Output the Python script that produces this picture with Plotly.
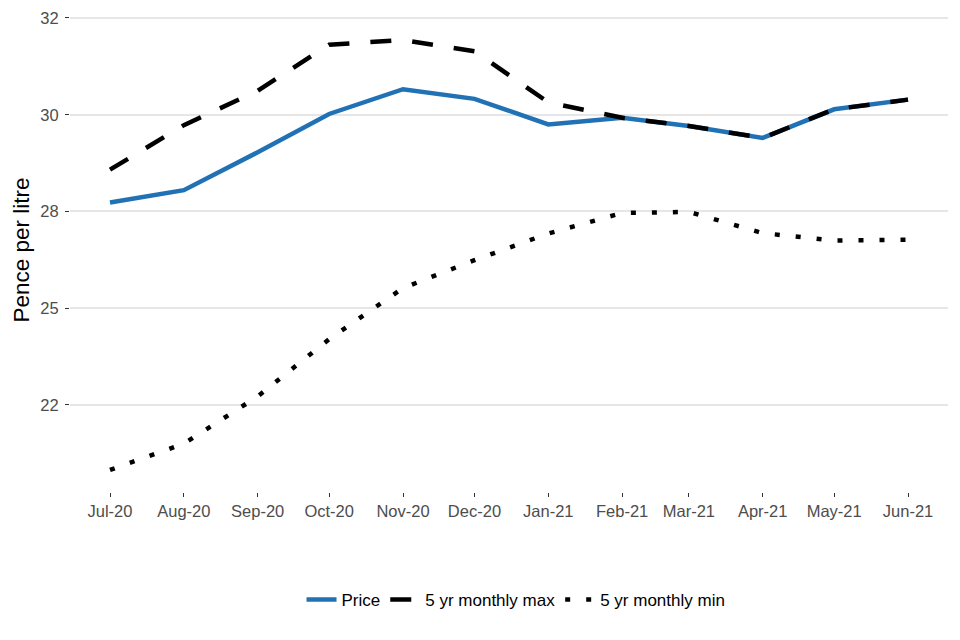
import plotly.graph_objects as go

months = ["2020-07-01", "2020-08-01", "2020-09-01", "2020-10-01", "2020-11-01", "2020-12-01",
          "2021-01-01", "2021-02-01", "2021-03-01", "2021-04-01", "2021-05-01", "2021-06-01"]
price = [27.73, 28.05, 29.03, 30.02, 30.66, 30.41, 29.75, 29.92, 29.71, 29.40, 30.14, 30.39]
max5 = [28.58, 29.73, 30.62, 31.81, 31.93, 31.64, 30.32, 29.92, 29.71, 29.40, 30.14, 30.39]
min5 = [20.82, 21.50, 22.72, 24.20, 25.52, 26.24, 26.93, 27.46, 27.49, 26.94, 26.75, 26.77]

y_tickvals = [22.5, 25, 27.5, 30, 32.5]
y_ticktext = ["22", "25", "28", "30", "32"]

FONT = "Liberation Sans, Arial, sans-serif"

fig = go.Figure()
fig.add_trace(go.Scatter(x=months, y=price, mode="lines", name="Price",
                         line=dict(color="#2171b5", width=4.5)))
fig.add_trace(go.Scatter(x=months, y=max5, mode="lines", name="5 yr monthly max",
                         line=dict(color="#000000", width=4.5, dash="21px,21px")))
fig.add_trace(go.Scatter(x=months, y=min5, mode="lines", name="5 yr monthly min",
                         line=dict(color="#000000", width=4.5, dash="5px,16px")))

fig.update_layout(
    width=960, height=640,
    margin=dict(l=62, r=20, t=0, b=156, autoexpand=False),
    paper_bgcolor="white", plot_bgcolor="white",
    font=dict(family=FONT, size=16, color="#4d4d4d"),
    showlegend=True,
    legend=dict(orientation="h", x=0.508, xanchor="center", y=-0.223, yanchor="middle",
                font=dict(family=FONT, size=17, color="#000000"),
                itemwidth=30, traceorder="normal"),
    xaxis=dict(
        type="date", automargin=False,
        range=["2020-06-14 05:00", "2021-06-17 19:00"],
        tickvals=months,
        tickformat="%b-%y",
        showgrid=False, zeroline=False, showline=False,
        ticks="outside", ticklen=4, tickwidth=1.3, tickcolor="#333333",
        tickfont=dict(family=FONT, size=16.5, color="#4d4d4d"),
    ),
    yaxis=dict(
        automargin=False,
        range=[20.25, 32.758],
        tickvals=y_tickvals, ticktext=y_ticktext,
        showgrid=True, gridcolor="#e6e6e6", gridwidth=1.8,
        zeroline=False, showline=False,
        ticks="outside", ticklen=4, tickwidth=1.3, tickcolor="#333333",
        ticklabelstandoff=3, ticklabeloverflow="allow",
        tickfont=dict(family=FONT, size=16.5, color="#4d4d4d"),
        title=dict(text="Pence per litre", font=dict(family=FONT, size=22.5, color="#000000"),
                   standoff=4),
    ),
)

fig.write_html("out.html")
